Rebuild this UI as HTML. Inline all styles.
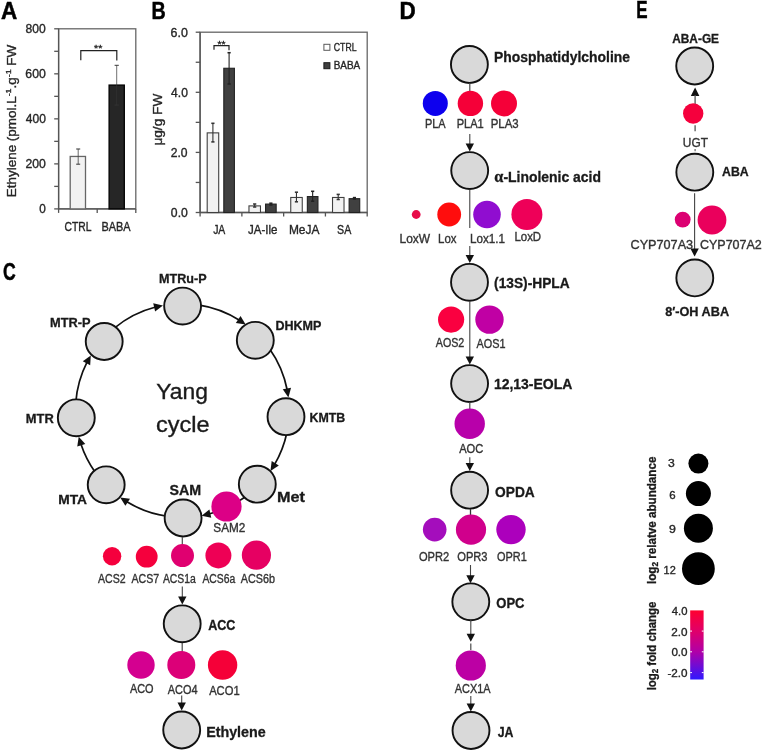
<!DOCTYPE html>
<html><head><meta charset="utf-8"><title>Figure</title>
<style>html,body{margin:0;padding:0;background:#fff;overflow:hidden;}svg{display:block;}text{font-family:"Liberation Sans", sans-serif;}</style>
</head><body>
<svg width="763" height="752" viewBox="0 0 763 752">
<defs><filter id="fz" x="-20%" y="-20%" width="140%" height="140%"><feGaussianBlur stdDeviation="0.35"/></filter></defs>
<rect width="763" height="752" fill="#ffffff"/>
<text id="t0" x="1.11" y="18.5" font-size="23.6" font-weight="bold" fill="#000" stroke="#000" stroke-width="0.5" textLength="16.23" lengthAdjust="spacingAndGlyphs">A</text>
<text id="t1" x="151.61" y="19.2" font-size="23.6" font-weight="bold" fill="#000" stroke="#000" stroke-width="0.5" textLength="14.21" lengthAdjust="spacingAndGlyphs">B</text>
<text id="t2" x="3" y="280.1" font-size="23.6" font-weight="bold" fill="#000" stroke="#000" stroke-width="0.5" textLength="12.75" lengthAdjust="spacingAndGlyphs">C</text>
<text id="t3" x="399.56" y="19.3" font-size="23.6" font-weight="bold" fill="#000" stroke="#000" stroke-width="0.5" textLength="16.21" lengthAdjust="spacingAndGlyphs">D</text>
<text id="t4" x="636.33" y="18.2" font-size="23.6" font-weight="bold" fill="#000" stroke="#000" stroke-width="0.5" textLength="11.33" lengthAdjust="spacingAndGlyphs">E</text>
<rect x="58.6" y="28.8" width="77.2" height="180.1" fill="none" stroke="#666666" stroke-width="1.3"/>
<line x1="58.6" y1="28.8" x2="58.6" y2="208.9" stroke="#555555" stroke-width="1.3"/>
<line x1="58.6" y1="208.9" x2="135.8" y2="208.9" stroke="#555555" stroke-width="1.3"/>
<line x1="54.2" y1="208.9" x2="58.6" y2="208.9" stroke="#555555" stroke-width="1.3"/>
<line x1="54.2" y1="186.39" x2="58.6" y2="186.39" stroke="#555555" stroke-width="1.3"/>
<line x1="54.2" y1="163.88" x2="58.6" y2="163.88" stroke="#555555" stroke-width="1.3"/>
<line x1="54.2" y1="141.36" x2="58.6" y2="141.36" stroke="#555555" stroke-width="1.3"/>
<line x1="54.2" y1="118.85" x2="58.6" y2="118.85" stroke="#555555" stroke-width="1.3"/>
<line x1="54.2" y1="96.34" x2="58.6" y2="96.34" stroke="#555555" stroke-width="1.3"/>
<line x1="54.2" y1="73.83" x2="58.6" y2="73.83" stroke="#555555" stroke-width="1.3"/>
<line x1="54.2" y1="51.31" x2="58.6" y2="51.31" stroke="#555555" stroke-width="1.3"/>
<line x1="54.2" y1="28.8" x2="58.6" y2="28.8" stroke="#555555" stroke-width="1.3"/>
<text id="t5" x="39.28" y="213.25" font-size="12" fill="#262626" stroke="#262626" stroke-width="0.35" textLength="6.54" lengthAdjust="spacingAndGlyphs">0</text>
<text id="t6" x="25.47" y="168.22" font-size="12" fill="#262626" stroke="#262626" stroke-width="0.35" textLength="20.37" lengthAdjust="spacingAndGlyphs">200</text>
<text id="t7" x="25.83" y="123.2" font-size="12" fill="#262626" stroke="#262626" stroke-width="0.35" textLength="20.08" lengthAdjust="spacingAndGlyphs">400</text>
<text id="t8" x="25.37" y="78.18" font-size="12" fill="#262626" stroke="#262626" stroke-width="0.35" textLength="20.45" lengthAdjust="spacingAndGlyphs">600</text>
<text id="t9" x="25.63" y="33.15" font-size="12" fill="#262626" stroke="#262626" stroke-width="0.35" textLength="20.17" lengthAdjust="spacingAndGlyphs">800</text>
<line x1="58.6" y1="208.9" x2="58.6" y2="212.9" stroke="#555555" stroke-width="1.3"/>
<line x1="97.2" y1="208.9" x2="97.2" y2="212.9" stroke="#555555" stroke-width="1.3"/>
<line x1="135.8" y1="208.9" x2="135.8" y2="212.9" stroke="#555555" stroke-width="1.3"/>
<rect x="70.2" y="156.45" width="15.3" height="52.45" fill="#f2f2f2" stroke="#666666" stroke-width="1.3"/>
<rect x="109.1" y="85.08" width="15.2" height="123.82" fill="#262626" stroke="#000000" stroke-width="1.3"/>
<line x1="78.2" y1="149" x2="78.2" y2="164.2" stroke="#444" stroke-width="0.8"/>
<line x1="76.2" y1="149" x2="80.2" y2="149" stroke="#444" stroke-width="1.12"/>
<line x1="76.2" y1="164.2" x2="80.2" y2="164.2" stroke="#444" stroke-width="1.12"/>
<line x1="116.7" y1="65.3" x2="116.7" y2="105.1" stroke="#333" stroke-width="0.7"/>
<line x1="114.6" y1="65.3" x2="118.8" y2="65.3" stroke="#333" stroke-width="0.98"/>
<line x1="114.6" y1="105.1" x2="118.8" y2="105.1" stroke="#333" stroke-width="0.98"/>
<polyline points="80.8,60.2 80.8,50.6 116.8,50.6 116.8,60.6" fill="none" stroke="#222" stroke-width="1.2"/>
<text id="t10" x="94.08" y="50.9" font-size="9" fill="#262626" stroke="#262626" stroke-width="0.35" textLength="8.31" lengthAdjust="spacingAndGlyphs">**</text>
<text id="t11" x="64.5" y="230.6" font-size="12" fill="#262626" stroke="#262626" stroke-width="0.35" textLength="26.99" lengthAdjust="spacingAndGlyphs">CTRL</text>
<text id="t12" x="101.48" y="230.6" font-size="12" fill="#262626" stroke="#262626" stroke-width="0.35" textLength="29.1" lengthAdjust="spacingAndGlyphs">BABA</text>
<text id="t13" transform="translate(16.3,197.22) rotate(-90)" x="0" y="0" font-size="12.3" fill="#262626" stroke="#262626" stroke-width="0.35" textLength="152.39" lengthAdjust="spacingAndGlyphs">Ethylene (pmol.L<tspan dy="-5" font-size="8">-1</tspan><tspan dy="5">.g</tspan><tspan dy="-5" font-size="8">-1</tspan><tspan dy="5"> FW</tspan></text>
<rect x="200.1" y="32.2" width="167.1" height="180.3" fill="none" stroke="#666666" stroke-width="1.3"/>
<line x1="200.1" y1="32.2" x2="200.1" y2="212.5" stroke="#555555" stroke-width="1.3"/>
<line x1="200.1" y1="212.5" x2="367.2" y2="212.5" stroke="#555555" stroke-width="1.3"/>
<line x1="195.7" y1="212.5" x2="200.1" y2="212.5" stroke="#555555" stroke-width="1.3"/>
<line x1="195.7" y1="182.45" x2="200.1" y2="182.45" stroke="#555555" stroke-width="1.3"/>
<line x1="195.7" y1="152.4" x2="200.1" y2="152.4" stroke="#555555" stroke-width="1.3"/>
<line x1="195.7" y1="122.35" x2="200.1" y2="122.35" stroke="#555555" stroke-width="1.3"/>
<line x1="195.7" y1="92.3" x2="200.1" y2="92.3" stroke="#555555" stroke-width="1.3"/>
<line x1="195.7" y1="62.25" x2="200.1" y2="62.25" stroke="#555555" stroke-width="1.3"/>
<line x1="195.7" y1="32.2" x2="200.1" y2="32.2" stroke="#555555" stroke-width="1.3"/>
<text id="t14" x="170.86" y="217.1" font-size="12.2" fill="#262626" stroke="#262626" stroke-width="0.35" textLength="16.93" lengthAdjust="spacingAndGlyphs">0.0</text>
<text id="t15" x="170.66" y="157" font-size="12.2" fill="#262626" stroke="#262626" stroke-width="0.35" textLength="16.83" lengthAdjust="spacingAndGlyphs">2.0</text>
<text id="t16" x="171.09" y="96.9" font-size="12.2" fill="#262626" stroke="#262626" stroke-width="0.35" textLength="16.77" lengthAdjust="spacingAndGlyphs">4.0</text>
<text id="t17" x="170.58" y="36.8" font-size="12.2" fill="#262626" stroke="#262626" stroke-width="0.35" textLength="17.27" lengthAdjust="spacingAndGlyphs">6.0</text>
<line x1="200.1" y1="212.5" x2="200.1" y2="216.5" stroke="#555555" stroke-width="1.3"/>
<line x1="241.88" y1="212.5" x2="241.88" y2="216.5" stroke="#555555" stroke-width="1.3"/>
<line x1="283.65" y1="212.5" x2="283.65" y2="216.5" stroke="#555555" stroke-width="1.3"/>
<line x1="325.42" y1="212.5" x2="325.42" y2="216.5" stroke="#555555" stroke-width="1.3"/>
<line x1="367.2" y1="212.5" x2="367.2" y2="216.5" stroke="#555555" stroke-width="1.3"/>
<rect x="207.2" y="132.87" width="11.5" height="79.63" fill="#f2f2f2" stroke="#404040" stroke-width="1.1"/>
<rect x="223.8" y="68.26" width="10.6" height="144.24" fill="#404040" stroke="#222222" stroke-width="1.1"/>
<line x1="212.9" y1="123.3" x2="212.9" y2="141.9" stroke="#333" stroke-width="1.1"/>
<line x1="211.3" y1="123.3" x2="214.5" y2="123.3" stroke="#333" stroke-width="1.54"/>
<line x1="211.3" y1="141.9" x2="214.5" y2="141.9" stroke="#333" stroke-width="1.54"/>
<line x1="229.1" y1="52.7" x2="229.1" y2="84" stroke="#222" stroke-width="1.1"/>
<line x1="227.5" y1="52.7" x2="230.7" y2="52.7" stroke="#222" stroke-width="1.54"/>
<line x1="227.5" y1="84" x2="230.7" y2="84" stroke="#222" stroke-width="1.54"/>
<rect x="248.97" y="205.89" width="11.5" height="6.61" fill="#f2f2f2" stroke="#404040" stroke-width="1.1"/>
<rect x="265.57" y="204.09" width="10.6" height="8.41" fill="#404040" stroke="#222222" stroke-width="1.1"/>
<line x1="254.68" y1="204" x2="254.68" y2="207" stroke="#333" stroke-width="1.1"/>
<line x1="253.08" y1="204" x2="256.28" y2="204" stroke="#333" stroke-width="1.54"/>
<line x1="253.08" y1="207" x2="256.28" y2="207" stroke="#333" stroke-width="1.54"/>
<line x1="270.88" y1="203.2" x2="270.88" y2="205" stroke="#222" stroke-width="1.1"/>
<line x1="269.27" y1="203.2" x2="272.48" y2="203.2" stroke="#222" stroke-width="1.54"/>
<line x1="269.27" y1="205" x2="272.48" y2="205" stroke="#222" stroke-width="1.54"/>
<rect x="290.75" y="197.47" width="11.5" height="15.03" fill="#f2f2f2" stroke="#404040" stroke-width="1.1"/>
<rect x="307.35" y="196.57" width="10.6" height="15.93" fill="#404040" stroke="#222222" stroke-width="1.1"/>
<line x1="296.45" y1="192.2" x2="296.45" y2="201.8" stroke="#333" stroke-width="1.1"/>
<line x1="294.85" y1="192.2" x2="298.05" y2="192.2" stroke="#333" stroke-width="1.54"/>
<line x1="294.85" y1="201.8" x2="298.05" y2="201.8" stroke="#333" stroke-width="1.54"/>
<line x1="312.65" y1="191.3" x2="312.65" y2="201.2" stroke="#222" stroke-width="1.1"/>
<line x1="311.05" y1="191.3" x2="314.25" y2="191.3" stroke="#222" stroke-width="1.54"/>
<line x1="311.05" y1="201.2" x2="314.25" y2="201.2" stroke="#222" stroke-width="1.54"/>
<rect x="332.52" y="197.47" width="11.5" height="15.03" fill="#f2f2f2" stroke="#404040" stroke-width="1.1"/>
<rect x="349.12" y="198.68" width="10.6" height="13.82" fill="#404040" stroke="#222222" stroke-width="1.1"/>
<line x1="338.22" y1="194.4" x2="338.22" y2="199.5" stroke="#333" stroke-width="1.1"/>
<line x1="336.62" y1="194.4" x2="339.82" y2="194.4" stroke="#333" stroke-width="1.54"/>
<line x1="336.62" y1="199.5" x2="339.82" y2="199.5" stroke="#333" stroke-width="1.54"/>
<line x1="354.42" y1="197.6" x2="354.42" y2="199" stroke="#222" stroke-width="1.1"/>
<line x1="352.82" y1="197.6" x2="356.02" y2="197.6" stroke="#222" stroke-width="1.54"/>
<line x1="352.82" y1="199" x2="356.02" y2="199" stroke="#222" stroke-width="1.54"/>
<polyline points="214,49.8 214,45.6 229,45.6 229,50.2" fill="none" stroke="#222" stroke-width="1.2"/>
<text id="t18" x="217.62" y="46.7" font-size="9" fill="#262626" stroke="#262626" stroke-width="0.35" textLength="7.98" lengthAdjust="spacingAndGlyphs">**</text>
<text id="t19" x="213.15" y="233.9" font-size="12.3" fill="#262626" stroke="#262626" stroke-width="0.35" textLength="12.19" lengthAdjust="spacingAndGlyphs">JA</text>
<text id="t20" x="248.03" y="233.9" font-size="12.3" fill="#262626" stroke="#262626" stroke-width="0.35" textLength="29.37" lengthAdjust="spacingAndGlyphs">JA-Ile</text>
<text id="t21" x="288.93" y="233.9" font-size="12.3" fill="#262626" stroke="#262626" stroke-width="0.35" textLength="30.52" lengthAdjust="spacingAndGlyphs">MeJA</text>
<text id="t22" x="337.1" y="233.9" font-size="12.3" fill="#262626" stroke="#262626" stroke-width="0.35" textLength="14.18" lengthAdjust="spacingAndGlyphs">SA</text>
<text id="t23" transform="translate(161.8,145.6) rotate(-90)" x="0" y="0" font-size="12.3" fill="#262626" stroke="#262626" stroke-width="0.35" textLength="51.92" lengthAdjust="spacingAndGlyphs">μg/g FW</text>
<rect x="323.9" y="44.3" width="6" height="6" fill="#ffffff" stroke="#595959" stroke-width="1"/>
<rect x="323.9" y="62.7" width="6" height="6" fill="#404040" stroke="#1a1a1a" stroke-width="1"/>
<text id="t24" x="333.82" y="50.8" font-size="10" fill="#262626" stroke="#262626" stroke-width="0.35" textLength="22.74" lengthAdjust="spacingAndGlyphs">CTRL</text>
<text id="t25" x="333.75" y="69" font-size="10" fill="#262626" stroke="#262626" stroke-width="0.35" textLength="26.49" lengthAdjust="spacingAndGlyphs">BABA</text>
<path d="M114.31,328.12 A106.86,106.86 0 0 1 155.62,307.05" fill="none" stroke="#111" stroke-width="1.7"/>
<polygon points="162.94,305.44 155.11,311.53 153.23,303.35" fill="#111"/>
<path d="M198.11,304.83 A106.86,106.86 0 0 1 239.45,320.2" fill="none" stroke="#111" stroke-width="1.7"/>
<polygon points="245.65,324.43 235.83,322.89 240.52,315.92" fill="#111"/>
<path d="M269.72,349 A106.86,106.86 0 0 1 287.22,390.03" fill="none" stroke="#111" stroke-width="1.7"/>
<polygon points="288.4,397.44 282.78,389.25 291.06,387.87" fill="#111"/>
<path d="M286.92,432.5 A106.86,106.86 0 0 1 274.5,464.62" fill="none" stroke="#111" stroke-width="1.7"/>
<polygon points="270.48,470.95 271.69,461.09 278.81,465.54" fill="#111"/>
<path d="M245.07,497.03 A106.86,106.86 0 0 1 208.88,514.03" fill="none" stroke="#111" stroke-width="1.7"/>
<polygon points="201.55,515.64 209.4,509.55 211.26,517.75" fill="#111"/>
<path d="M166.45,516.19 A106.86,106.86 0 0 1 126.4,501.57" fill="none" stroke="#111" stroke-width="1.7"/>
<polygon points="120.16,497.42 129.99,498.83 125.39,505.86" fill="#111"/>
<path d="M95.5,472.79 A106.86,106.86 0 0 1 80.81,443.85" fill="none" stroke="#111" stroke-width="1.7"/>
<polygon points="78.72,436.64 85.31,444.07 77.26,446.47" fill="#111"/>
<path d="M75.8,402.2 A106.86,106.86 0 0 1 87.16,361.94" fill="none" stroke="#111" stroke-width="1.7"/>
<polygon points="90.8,355.38 90.17,365.29 82.8,361.27" fill="#111"/>
<circle cx="182.6" cy="306.1" r="18.45" fill="#d9d9d9" stroke="#111" stroke-width="1.9"/>
<circle cx="255.3" cy="340.3" r="18.45" fill="#d9d9d9" stroke="#111" stroke-width="1.9"/>
<circle cx="286" cy="416.7" r="18.45" fill="#d9d9d9" stroke="#111" stroke-width="1.9"/>
<circle cx="257.3" cy="484.2" r="18.45" fill="#d9d9d9" stroke="#111" stroke-width="1.9"/>
<circle cx="183.1" cy="518" r="18.45" fill="#d9d9d9" stroke="#111" stroke-width="1.9"/>
<circle cx="106.2" cy="484.8" r="18.45" fill="#d9d9d9" stroke="#111" stroke-width="1.9"/>
<circle cx="76.3" cy="417.8" r="18.45" fill="#d9d9d9" stroke="#111" stroke-width="1.9"/>
<circle cx="104.2" cy="341.5" r="18.45" fill="#d9d9d9" stroke="#111" stroke-width="1.9"/>
<text id="t26" x="159.08" y="283" font-size="12.4" font-weight="bold" fill="#1a1a1a" stroke="#1a1a1a" stroke-width="0.3" textLength="47.58" lengthAdjust="spacingAndGlyphs">MTRu-P</text>
<text id="t27" x="275.48" y="330" font-size="12.4" font-weight="bold" fill="#1a1a1a" stroke="#1a1a1a" stroke-width="0.3" textLength="45.96" lengthAdjust="spacingAndGlyphs">DHKMP</text>
<text id="t28" x="309.49" y="421.8" font-size="12.4" font-weight="bold" fill="#1a1a1a" stroke="#1a1a1a" stroke-width="0.3" textLength="35.76" lengthAdjust="spacingAndGlyphs">KMTB</text>
<text id="t29" x="277.04" y="502" font-size="14.2" font-weight="bold" fill="#1a1a1a" stroke="#1a1a1a" stroke-width="0.3" textLength="27.96" lengthAdjust="spacingAndGlyphs">Met</text>
<text id="t30" x="169.42" y="494.9" font-size="14.2" font-weight="bold" fill="#1a1a1a" stroke="#1a1a1a" stroke-width="0.3" textLength="31.66" lengthAdjust="spacingAndGlyphs">SAM</text>
<text id="t31" x="58.25" y="503.7" font-size="12.4" font-weight="bold" fill="#1a1a1a" stroke="#1a1a1a" stroke-width="0.3" textLength="28.75" lengthAdjust="spacingAndGlyphs">MTA</text>
<text id="t32" x="25.76" y="423.2" font-size="12.4" font-weight="bold" fill="#1a1a1a" stroke="#1a1a1a" stroke-width="0.3" textLength="27.95" lengthAdjust="spacingAndGlyphs">MTR</text>
<text id="t33" x="50.06" y="326.8" font-size="12.4" font-weight="bold" fill="#1a1a1a" stroke="#1a1a1a" stroke-width="0.3" textLength="40.48" lengthAdjust="spacingAndGlyphs">MTR-P</text>
<text id="t34" x="156.26" y="399.3" font-size="22.6" fill="#1a1a1a" stroke="#1a1a1a" stroke-width="0.35" textLength="51.66" lengthAdjust="spacingAndGlyphs">Yang</text>
<text id="t35" x="155.9" y="431.5" font-size="22.6" fill="#1a1a1a" stroke="#1a1a1a" stroke-width="0.35" textLength="53.66" lengthAdjust="spacingAndGlyphs">cycle</text>
<circle cx="226.5" cy="506.5" r="15.1" fill="#dc0086" filter="url(#fz)"/>
<text id="t36" x="213.37" y="532.4" font-size="12" fill="#333333" stroke="#333333" stroke-width="0.35" textLength="32.02" lengthAdjust="spacingAndGlyphs">SAM2</text>
<line x1="182.3" y1="537" x2="182.3" y2="545" stroke="#4a4a4a" stroke-width="1.2"/>
<circle cx="112.1" cy="556.3" r="9.2" fill="#f5003c" filter="url(#fz)"/>
<circle cx="146.7" cy="556.7" r="10.9" fill="#f5003c" filter="url(#fz)"/>
<circle cx="182.5" cy="555.6" r="11.5" fill="#e00070" filter="url(#fz)"/>
<circle cx="218.4" cy="555.4" r="13" fill="#ee0054" filter="url(#fz)"/>
<circle cx="256.4" cy="555.1" r="14.6" fill="#e60062" filter="url(#fz)"/>
<text id="t37" x="98.02" y="582.8" font-size="12" fill="#333333" stroke="#333333" stroke-width="0.35" textLength="27.57" lengthAdjust="spacingAndGlyphs">ACS2</text>
<text id="t38" x="131.46" y="582.8" font-size="12" fill="#333333" stroke="#333333" stroke-width="0.35" textLength="27.73" lengthAdjust="spacingAndGlyphs">ACS7</text>
<text id="t39" x="162.95" y="582.8" font-size="12" fill="#333333" stroke="#333333" stroke-width="0.35" textLength="32.89" lengthAdjust="spacingAndGlyphs">ACS1a</text>
<text id="t40" x="202.46" y="582.8" font-size="12" fill="#333333" stroke="#333333" stroke-width="0.35" textLength="32.79" lengthAdjust="spacingAndGlyphs">ACS6a</text>
<text id="t41" x="240.83" y="582.8" font-size="12" fill="#333333" stroke="#333333" stroke-width="0.35" textLength="34.17" lengthAdjust="spacingAndGlyphs">ACS6b</text>
<line x1="182.3" y1="586.5" x2="182.3" y2="597.6" stroke="#444" stroke-width="1.1"/>
<polygon points="182.3,604.6 178.1,596.6 186.5,596.6" fill="#111"/>
<circle cx="182.2" cy="623.8" r="18.45" fill="#d9d9d9" stroke="#111" stroke-width="1.9"/>
<text id="t42" x="208.17" y="629.6" font-size="14.5" font-weight="bold" fill="#1a1a1a" stroke="#1a1a1a" stroke-width="0.3" textLength="27.28" lengthAdjust="spacingAndGlyphs">ACC</text>
<line x1="182.2" y1="643" x2="182.2" y2="652" stroke="#4a4a4a" stroke-width="1.2"/>
<circle cx="141" cy="665" r="13.7" fill="#d40090" filter="url(#fz)"/>
<circle cx="181.3" cy="665" r="14" fill="#dc0078" filter="url(#fz)"/>
<circle cx="222.6" cy="665" r="14.7" fill="#f50038" filter="url(#fz)"/>
<text id="t43" x="129.94" y="693" font-size="12" fill="#333333" stroke="#333333" stroke-width="0.35" textLength="23.67" lengthAdjust="spacingAndGlyphs">ACO</text>
<text id="t44" x="167.83" y="693.8" font-size="12" fill="#333333" stroke="#333333" stroke-width="0.35" textLength="29.71" lengthAdjust="spacingAndGlyphs">ACO4</text>
<text id="t45" x="209.15" y="694.5" font-size="12" fill="#333333" stroke="#333333" stroke-width="0.35" textLength="30.47" lengthAdjust="spacingAndGlyphs">ACO1</text>
<line x1="181.7" y1="695.6" x2="181.7" y2="703.6" stroke="#444" stroke-width="1.1"/>
<polygon points="181.7,710.6 177.5,702.6 185.9,702.6" fill="#111"/>
<circle cx="181.7" cy="730" r="18.45" fill="#d9d9d9" stroke="#111" stroke-width="1.9"/>
<text id="t46" x="206.18" y="736.9" font-size="13.8" font-weight="bold" fill="#1a1a1a" stroke="#1a1a1a" stroke-width="0.3" textLength="59.51" lengthAdjust="spacingAndGlyphs">Ethylene</text>
<circle cx="469.4" cy="64.5" r="18.45" fill="#d9d9d9" stroke="#111" stroke-width="1.9"/>
<text id="t47" x="493.99" y="62" font-size="14.1" font-weight="bold" fill="#1a1a1a" stroke="#1a1a1a" stroke-width="0.3" textLength="136.01" lengthAdjust="spacingAndGlyphs">Phosphatidylcholine</text>
<line x1="469.8" y1="83" x2="469.8" y2="92" stroke="#4a4a4a" stroke-width="1.2"/>
<circle cx="435.3" cy="103.4" r="12.5" fill="#0800ee" filter="url(#fz)"/>
<circle cx="470.4" cy="103.4" r="12.7" fill="#f50038" filter="url(#fz)"/>
<circle cx="504" cy="103.4" r="13" fill="#f50038" filter="url(#fz)"/>
<text id="t48" x="424.91" y="128.4" font-size="12" fill="#333333" stroke="#333333" stroke-width="0.35" textLength="20.7" lengthAdjust="spacingAndGlyphs">PLA</text>
<text id="t49" x="456.67" y="128.4" font-size="12" fill="#333333" stroke="#333333" stroke-width="0.35" textLength="27.14" lengthAdjust="spacingAndGlyphs">PLA1</text>
<text id="t50" x="490.75" y="128.4" font-size="12" fill="#333333" stroke="#333333" stroke-width="0.35" textLength="27.95" lengthAdjust="spacingAndGlyphs">PLA3</text>
<line x1="469.8" y1="134" x2="469.8" y2="144.6" stroke="#444" stroke-width="1.1"/>
<polygon points="469.8,151.6 465.6,143.6 474,143.6" fill="#111"/>
<circle cx="469.7" cy="170.6" r="18.45" fill="#d9d9d9" stroke="#111" stroke-width="1.9"/>
<text id="t51" x="494.36" y="182.3" font-size="14.6" font-weight="bold" fill="#1a1a1a" stroke="#1a1a1a" stroke-width="0.3" textLength="106.65" lengthAdjust="spacingAndGlyphs"><tspan font-family="Liberation Serif" font-size="17">α</tspan>-Linolenic acid</text>
<line x1="469.8" y1="189" x2="469.8" y2="228" stroke="#333" stroke-width="1"/>
<circle cx="416.2" cy="214.5" r="4.4" fill="#e8104a" filter="url(#fz)"/>
<circle cx="449.2" cy="214.5" r="11.9" fill="#ff1010" filter="url(#fz)"/>
<circle cx="487" cy="214.5" r="13.8" fill="#9010d0" filter="url(#fz)"/>
<circle cx="526.9" cy="214.5" r="15.5" fill="#ee0058" filter="url(#fz)"/>
<text id="t52" x="399.52" y="242.6" font-size="12" fill="#333333" stroke="#333333" stroke-width="0.35" textLength="30.66" lengthAdjust="spacingAndGlyphs">LoxW</text>
<text id="t53" x="438.1" y="242.6" font-size="12" fill="#333333" stroke="#333333" stroke-width="0.35" textLength="18.46" lengthAdjust="spacingAndGlyphs">Lox</text>
<text id="t54" x="469.9" y="242.6" font-size="12" fill="#333333" stroke="#333333" stroke-width="0.35" textLength="35.06" lengthAdjust="spacingAndGlyphs">Lox1.1</text>
<text id="t55" x="514.43" y="241.2" font-size="12" fill="#333333" stroke="#333333" stroke-width="0.35" textLength="26.69" lengthAdjust="spacingAndGlyphs">LoxD</text>
<line x1="469.8" y1="245.9" x2="469.8" y2="256" stroke="#444" stroke-width="1.1"/>
<polygon points="469.8,263 465.6,255 474,255" fill="#111"/>
<circle cx="469.5" cy="282.3" r="18.45" fill="#d9d9d9" stroke="#111" stroke-width="1.9"/>
<text id="t56" x="494.09" y="287.7" font-size="14" font-weight="bold" fill="#1a1a1a" stroke="#1a1a1a" stroke-width="0.3" textLength="75.55" lengthAdjust="spacingAndGlyphs">(13S)-HPLA</text>
<line x1="469.8" y1="301" x2="469.8" y2="357.6" stroke="#444" stroke-width="1.1"/>
<polygon points="469.8,364.6 465.6,356.6 474,356.6" fill="#111"/>
<circle cx="451.1" cy="319.6" r="13.1" fill="#fa0040" filter="url(#fz)"/>
<circle cx="489.5" cy="319.6" r="14.2" fill="#c000a4" filter="url(#fz)"/>
<text id="t57" x="435.75" y="347.1" font-size="12" fill="#333333" stroke="#333333" stroke-width="0.35" textLength="28.56" lengthAdjust="spacingAndGlyphs">AOS2</text>
<text id="t58" x="476.48" y="347.5" font-size="12" fill="#333333" stroke="#333333" stroke-width="0.35" textLength="28.95" lengthAdjust="spacingAndGlyphs">AOS1</text>
<circle cx="469.6" cy="383.6" r="18.45" fill="#d9d9d9" stroke="#111" stroke-width="1.9"/>
<text id="t59" x="493.88" y="388.5" font-size="14" font-weight="bold" fill="#1a1a1a" stroke="#1a1a1a" stroke-width="0.3" textLength="78.49" lengthAdjust="spacingAndGlyphs">12,13-EOLA</text>
<line x1="469.8" y1="402" x2="469.8" y2="410" stroke="#4a4a4a" stroke-width="1.2"/>
<circle cx="469.7" cy="423.7" r="15.2" fill="#b800aa" filter="url(#fz)"/>
<text id="t60" x="459.15" y="452.6" font-size="12" fill="#333333" stroke="#333333" stroke-width="0.35" textLength="24.14" lengthAdjust="spacingAndGlyphs">AOC</text>
<line x1="469.8" y1="457.2" x2="469.8" y2="464" stroke="#444" stroke-width="1.1"/>
<polygon points="469.8,471 465.6,463 474,463" fill="#111"/>
<circle cx="469.6" cy="490.2" r="18.45" fill="#d9d9d9" stroke="#111" stroke-width="1.9"/>
<text id="t61" x="495.09" y="496.7" font-size="14" font-weight="bold" fill="#1a1a1a" stroke="#1a1a1a" stroke-width="0.3" textLength="39.71" lengthAdjust="spacingAndGlyphs">OPDA</text>
<line x1="470.5" y1="509" x2="470.5" y2="515.5" stroke="#333" stroke-width="1.3"/>
<circle cx="434.7" cy="529.6" r="11.8" fill="#a408bc" filter="url(#fz)"/>
<circle cx="471" cy="529.6" r="15.1" fill="#d0008c" filter="url(#fz)"/>
<circle cx="511" cy="529.6" r="14.7" fill="#ac04bc" filter="url(#fz)"/>
<text id="t62" x="418.95" y="560.9" font-size="12" fill="#333333" stroke="#333333" stroke-width="0.35" textLength="30.25" lengthAdjust="spacingAndGlyphs">OPR2</text>
<text id="t63" x="457.25" y="560.9" font-size="12" fill="#333333" stroke="#333333" stroke-width="0.35" textLength="30.31" lengthAdjust="spacingAndGlyphs">OPR3</text>
<text id="t64" x="497.04" y="560.9" font-size="12" fill="#333333" stroke="#333333" stroke-width="0.35" textLength="29.74" lengthAdjust="spacingAndGlyphs">OPR1</text>
<line x1="470.5" y1="565" x2="470.5" y2="576.2" stroke="#444" stroke-width="1.1"/>
<polygon points="470.5,583.2 466.3,575.2 474.7,575.2" fill="#111"/>
<circle cx="470.8" cy="601.8" r="18.45" fill="#d9d9d9" stroke="#111" stroke-width="1.9"/>
<text id="t65" x="496.25" y="608" font-size="14.2" font-weight="bold" fill="#1a1a1a" stroke="#1a1a1a" stroke-width="0.3" textLength="28.22" lengthAdjust="spacingAndGlyphs">OPC</text>
<line x1="470.8" y1="620" x2="470.8" y2="634.8" stroke="#444" stroke-width="1.1"/>
<polygon points="470.8,641.8 466.6,633.8 475,633.8" fill="#111"/>
<line x1="470.8" y1="643.5" x2="470.8" y2="650" stroke="#4a4a4a" stroke-width="1.2"/>
<circle cx="470.8" cy="665.5" r="15.1" fill="#bc00a4" filter="url(#fz)"/>
<text id="t66" x="454.75" y="693" font-size="12" fill="#333333" stroke="#333333" stroke-width="0.35" textLength="35.8" lengthAdjust="spacingAndGlyphs">ACX1A</text>
<line x1="470.8" y1="696" x2="470.8" y2="704.4" stroke="#444" stroke-width="1.1"/>
<polygon points="470.8,711.4 466.6,703.4 475,703.4" fill="#111"/>
<circle cx="471" cy="730.5" r="18.45" fill="#d9d9d9" stroke="#111" stroke-width="1.9"/>
<text id="t67" x="497.69" y="736.7" font-size="14.2" font-weight="bold" fill="#1a1a1a" stroke="#1a1a1a" stroke-width="0.3" textLength="15.77" lengthAdjust="spacingAndGlyphs">JA</text>
<text id="t68" x="672.24" y="42.5" font-size="12" font-weight="bold" fill="#1a1a1a" stroke="#1a1a1a" stroke-width="0.3" textLength="46.8" lengthAdjust="spacingAndGlyphs">ABA-GE</text>
<circle cx="694.7" cy="66" r="18.45" fill="#d9d9d9" stroke="#111" stroke-width="1.9"/>
<polygon points="695.1,87.4 699.4,95.9 690.8,95.9" fill="#111"/>
<line x1="695.1" y1="95" x2="695.1" y2="104" stroke="#555" stroke-width="1.3"/>
<circle cx="693.2" cy="113.5" r="10.2" fill="#f5003c" filter="url(#fz)"/>
<line x1="695.1" y1="125.3" x2="695.1" y2="131.2" stroke="#555" stroke-width="1.3"/>
<text id="t69" x="682.8" y="146.8" font-size="12.6" fill="#333333" stroke="#333333" stroke-width="0.35" textLength="25.1" lengthAdjust="spacingAndGlyphs">UGT</text>
<line x1="695.1" y1="149" x2="695.1" y2="151.2" stroke="#666" stroke-width="1.2"/>
<circle cx="694.8" cy="172.2" r="18.45" fill="#d9d9d9" stroke="#111" stroke-width="1.9"/>
<text id="t70" x="722.01" y="175.8" font-size="12.4" font-weight="bold" fill="#1a1a1a" stroke="#1a1a1a" stroke-width="0.3" textLength="26.65" lengthAdjust="spacingAndGlyphs">ABA</text>
<line x1="694.6" y1="193.2" x2="694.6" y2="249.6" stroke="#444" stroke-width="1.1"/>
<polygon points="694.6,256.6 690.4,248.6 698.8,248.6" fill="#111"/>
<circle cx="682.7" cy="219.6" r="7.9" fill="#dc0072" filter="url(#fz)"/>
<circle cx="712" cy="220" r="14.4" fill="#ea005c" filter="url(#fz)"/>
<text id="t71" x="630.52" y="248.5" font-size="12.3" fill="#333333" stroke="#333333" stroke-width="0.35" textLength="62.63" lengthAdjust="spacingAndGlyphs">CYP707A3</text>
<text id="t72" x="699.95" y="248.5" font-size="12.3" fill="#333333" stroke="#333333" stroke-width="0.35" textLength="61.87" lengthAdjust="spacingAndGlyphs">CYP707A2</text>
<circle cx="694.8" cy="277.9" r="18.45" fill="#d9d9d9" stroke="#111" stroke-width="1.9"/>
<text id="t73" x="665.18" y="316" font-size="12.2" font-weight="bold" fill="#1a1a1a" stroke="#1a1a1a" stroke-width="0.3" textLength="63.93" lengthAdjust="spacingAndGlyphs">8′-OH ABA</text>
<circle cx="698.4" cy="463.6" r="10" fill="#000"/>
<text id="t74" x="667.91" y="467.3" font-size="11" fill="#262626" stroke="#262626" stroke-width="0.35" textLength="6.75" lengthAdjust="spacingAndGlyphs">3</text>
<circle cx="698.4" cy="493.6" r="12.5" fill="#000"/>
<text id="t75" x="669.18" y="498.9" font-size="11" fill="#262626" stroke="#262626" stroke-width="0.35" textLength="6.37" lengthAdjust="spacingAndGlyphs">6</text>
<circle cx="698.4" cy="528.2" r="14.5" fill="#000"/>
<text id="t76" x="668.92" y="532.8" font-size="11" fill="#262626" stroke="#262626" stroke-width="0.35" textLength="6.86" lengthAdjust="spacingAndGlyphs">9</text>
<circle cx="698.4" cy="568.7" r="16.4" fill="#000"/>
<text id="t77" x="663.6" y="573.5" font-size="11" fill="#262626" stroke="#262626" stroke-width="0.35" textLength="12.17" lengthAdjust="spacingAndGlyphs">12</text>
<text id="t78" transform="translate(656,584.06) rotate(-90)" x="0" y="0" font-size="12" font-weight="bold" fill="#1a1a1a" stroke="#1a1a1a" stroke-width="0.3" textLength="127.44" lengthAdjust="spacingAndGlyphs">log<tspan font-size="8.5" dy="2">2</tspan><tspan dy="-2"> relatve abundance</tspan></text>
<defs><linearGradient id="cb" x1="0" y1="0" x2="0" y2="1"><stop offset="0" stop-color="#ff0030"/><stop offset="0.3" stop-color="#e0006a"/><stop offset="0.6" stop-color="#b000a8"/><stop offset="1" stop-color="#3018ff"/></linearGradient></defs>
<rect x="690.2" y="610.4" width="13.4" height="69.1" fill="url(#cb)" stroke="none" stroke-width="1"/>
<line x1="690.2" y1="631.1" x2="692" y2="631.1" stroke="#ffffff" stroke-width="1"/>
<line x1="701.8" y1="631.1" x2="703.6" y2="631.1" stroke="#ffffff" stroke-width="1"/>
<line x1="690.2" y1="651.8" x2="692" y2="651.8" stroke="#ffffff" stroke-width="1"/>
<line x1="701.8" y1="651.8" x2="703.6" y2="651.8" stroke="#ffffff" stroke-width="1"/>
<line x1="690.2" y1="672.6" x2="692" y2="672.6" stroke="#ffffff" stroke-width="1"/>
<line x1="701.8" y1="672.6" x2="703.6" y2="672.6" stroke="#ffffff" stroke-width="1"/>
<text id="t79" x="671.79" y="615.1" font-size="11" fill="#262626" stroke="#262626" stroke-width="0.35" textLength="15.67" lengthAdjust="spacingAndGlyphs">4.0</text>
<text id="t80" x="671.3" y="635.7" font-size="11" fill="#262626" stroke="#262626" stroke-width="0.35" textLength="16.24" lengthAdjust="spacingAndGlyphs">2.0</text>
<text id="t81" x="671.4" y="656.2" font-size="11" fill="#262626" stroke="#262626" stroke-width="0.35" textLength="16.16" lengthAdjust="spacingAndGlyphs">0.0</text>
<text id="t82" x="667.49" y="676.9" font-size="11" fill="#262626" stroke="#262626" stroke-width="0.35" textLength="20.12" lengthAdjust="spacingAndGlyphs">-2.0</text>
<text id="t83" transform="translate(656.3,690.37) rotate(-90)" x="0" y="0" font-size="12" font-weight="bold" fill="#1a1a1a" stroke="#1a1a1a" stroke-width="0.3" textLength="88.64" lengthAdjust="spacingAndGlyphs">log<tspan font-size="8.5" dy="2">2</tspan><tspan dy="-2"> fold change</tspan></text>
</svg>
</body></html>
